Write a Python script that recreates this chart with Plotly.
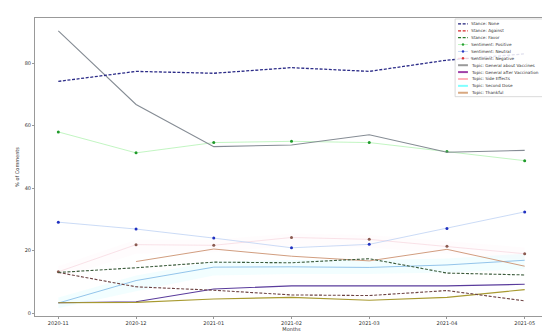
import plotly.graph_objects as go

months = ["2020-11", "2020-12", "2021-01", "2021-02", "2021-03", "2021-04", "2021-05"]

stance_none = [74.2, 77.4, 76.8, 78.6, 77.4, 81.0, 83.0]
stance_against = [13.0, 8.4, 7.3, 5.8, 5.6, 7.2, 3.9]
stance_favor = [13.0, 14.5, 16.3, 16.1, 17.4, 12.8, 12.2]

sent_positive = [58.0, 51.3, 54.6, 55.0, 54.6, 51.7, 48.8]
sent_neutral = [29.1, 26.9, 24.0, 20.9, 22.0, 27.1, 32.4]
sent_negative = [13.2, 21.9, 21.7, 24.2, 23.6, 21.4, 19.0]

topic_general = [90.4, 66.8, 53.3, 53.8, 57.1, 51.5, 52.1]
topic_after = [3.3, 3.6, 7.7, 8.7, 8.7, 8.7, 9.2]
topic_side = [None, 16.5, 20.5, 18.2, 16.7, 20.4, 15.0]
topic_second = [3.2, 10.4, 14.7, 14.8, 14.6, 15.4, 16.9]
topic_thankful = [3.3, 3.4, 4.5, 5.0, 4.1, 5.0, 7.5]

second_lo = [1.5, 7.0, 12.0, 12.5, 12.5, 13.0, 14.0]
second_hi = [5.0, 12.0, 16.5, 17.0, 17.0, 17.5, 19.0]
negative_lo = [11.0, 19.0, 19.5, 21.5, 21.0, 19.0, 17.0]
negative_hi = [15.0, 23.5, 23.5, 25.5, 25.0, 23.0, 21.0]

y_ticks = [0, 20, 40, 60, 80]

fig = go.Figure()

DASH = "3px,1.6px"

# faint bands
fig.add_trace(go.Scatter(x=months, y=second_hi, mode="lines", line=dict(width=0), showlegend=False, hoverinfo="skip"))
fig.add_trace(go.Scatter(x=months, y=second_lo, mode="lines", line=dict(width=0), fill="tonexty",
                         fillcolor="rgba(0,230,255,0.05)", showlegend=False, hoverinfo="skip"))
fig.add_trace(go.Scatter(x=months, y=negative_hi, mode="lines", line=dict(width=0), showlegend=False, hoverinfo="skip"))
fig.add_trace(go.Scatter(x=months, y=negative_lo, mode="lines", line=dict(width=0), fill="tonexty",
                         fillcolor="rgba(255,150,180,0.03)", showlegend=False, hoverinfo="skip"))

def line(y, color, width, dash="solid", name=""):
    fig.add_trace(go.Scatter(x=months, y=y, mode="lines", name=name,
                             line=dict(color=color, width=width, dash=dash), showlegend=False))

def marked(y, lcolor, mcolor, name=""):
    fig.add_trace(go.Scatter(x=months, y=y, mode="lines+markers", name=name,
                             line=dict(color=lcolor, width=0.7),
                             marker=dict(color=mcolor, size=3), showlegend=False))

marked(sent_negative, "#f6d6de", "#8a5a50", "Sentiment: Negative")
marked(sent_neutral, "#b4ccf2", "#2030c0", "Sentiment: Neutral")
marked(sent_positive, "#a8f0a8", "#1f9a2a", "Sentiment: Positive")

line(topic_second, "#88bde8", 0.9, name="Topic: Second Dose")
line(topic_side, "#cc9270", 0.9, name="Topic: Side Effects")
line(topic_after, "#5a3c9c", 1.1, name="Topic: General after Vaccination")
line(topic_thankful, "#a89a30", 1.1, name="Topic: Thankful")
line(topic_general, "#858c94", 1.1, name="Topic: General about Vaccines")

line(stance_against, "#6e4444", 1.1, DASH, "Stance: Against")
line(stance_favor, "#3c5c3c", 1.1, DASH, "Stance: Favor")
line(stance_none, "#2c2c88", 1.3, DASH, "Stance: None")

# custom legend (matplotlib style, compact)
L, R, T, B = 22, 541, 10, 313
def px(x):
    return (x - L) / (R - L)
def py(y):
    return (B - y) / (B - T)

legend_items = [
    ("Stance: None", "#1f1f7a", DASH, 1.2, None),
    ("Stance: Against", "#d62728", DASH, 1.2, None),
    ("Stance: Favor", "#2a7a2a", DASH, 1.2, None),
    ("Sentiment: Positive", "#a8f0a8", "solid", 0.8, "#1f9a2a"),
    ("Sentiment: Neutral", "#b4ccf2", "solid", 0.8, "#2030c0"),
    ("Sentiment: Negative", "#f6c6d0", "solid", 0.8, "#d62728"),
    ("Topic: General about Vaccines", "#9a9a9a", "solid", 2.0, None),
    ("Topic: General after Vaccination", "#a040a8", "solid", 2.0, None),
    ("Topic: Side Effects", "#ffb4bc", "solid", 2.0, None),
    ("Topic: Second Dose", "#80ffff", "solid", 2.0, None),
    ("Topic: Thankful", "#d8a880", "solid", 2.0, None),
]

shapes = [dict(type="rect", xref="paper", yref="paper", x0=px(447), x1=px(539), y0=py(90), y1=py(11),
               line=dict(color="#d0d0d0", width=0.8), fillcolor="rgba(255,255,255,0.85)", layer="above")]
annotations = []
for i, (name, col, dash, w, mcol) in enumerate(legend_items):
    yy = 16 + 7 * i
    shapes.append(dict(type="line", xref="paper", yref="paper", x0=px(450), x1=px(460), y0=py(yy), y1=py(yy),
                       line=dict(color=col, width=w, dash=dash), layer="above"))
    if mcol:
        shapes.append(dict(type="circle", xref="paper", yref="paper", x0=px(454), x1=px(456),
                           y0=py(yy + 1), y1=py(yy - 1), line=dict(color=mcol, width=0.5),
                           fillcolor=mcol, layer="above"))
    annotations.append(dict(text=name, xref="paper", yref="paper", x=px(462), y=py(yy), xanchor="left",
                            yanchor="middle", showarrow=False, borderpad=0,
                            font=dict(size=4.2, color="#333")))

fig.update_layout(
    width=550, height=333,
    margin=dict(l=L, r=550 - R, t=T, b=333 - B),
    paper_bgcolor="white", plot_bgcolor="white",
    font=dict(family="DejaVu Sans", size=5, color="#333"),
    shapes=shapes, annotations=annotations, showlegend=False,
)
fig.update_xaxes(type="category", range=[-0.3, 6.3], showgrid=False, zeroline=False,
                 showline=True, linecolor="#999", linewidth=1, mirror=True,
                 ticks="outside", ticklen=2, tickcolor="#999", tickfont=dict(size=5),
                 title=dict(text="Months", font=dict(size=5), standoff=2))
fig.update_yaxes(range=[-0.95, 94.5], tickvals=y_ticks, showgrid=False, zeroline=False,
                 showline=True, linecolor="#999", linewidth=1, mirror=True,
                 ticks="outside", ticklen=2, tickcolor="#999", tickfont=dict(size=5),
                 title=dict(text="% of Comments", font=dict(size=5), standoff=4))

fig.write_html("out.html")
